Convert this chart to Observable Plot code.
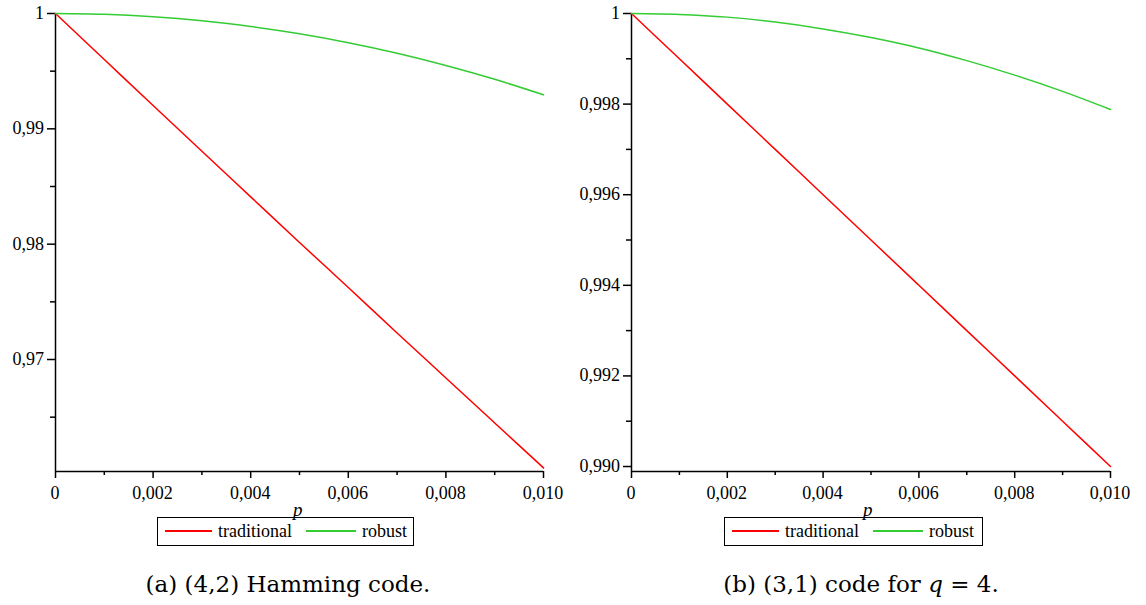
<!DOCTYPE html>
<html><head><meta charset="utf-8">
<script src="https://cdn.jsdelivr.net/npm/d3@7"></script>
<script src="https://cdn.jsdelivr.net/npm/@observablehq/plot@0.6"></script>
<style>
body{margin:0;background:#fff;}
#root{position:relative;width:1146px;height:605px;font-family:"Liberation Serif",serif;color:#000;overflow:hidden;}
.panel{position:absolute;top:0;}
.tick{position:absolute;font-family:"Liberation Serif",serif;font-size:18px;line-height:18px;white-space:nowrap;}
.plabel{position:absolute;font-style:italic;font-size:19px;line-height:19px;}
.legend{position:absolute;box-sizing:border-box;border:1.5px solid #000;height:29px;top:517px;font-size:18px;}
.legend .sw{position:absolute;top:12px;height:1.5px;}
.legend .tx{position:absolute;top:3px;line-height:20px;}
.caption{position:absolute;font-family:"DejaVu Serif",serif;font-size:23px;top:571px;white-space:nowrap;}
</style></head>
<body><div id="root"></div>
<script>
// x values (p)
const p = [0, 0.001, 0.002, 0.003, 0.004, 0.005, 0.006, 0.007, 0.008, 0.009, 0.010];
// (a) (4,2) Hamming code
const hammingTraditional = [1, 0.99601, 0.99202, 0.98805, 0.98410, 0.98015, 0.97624, 0.97230, 0.96840, 0.96450, 0.96060];
const hammingRobust      = [1, 0.99993, 0.99972, 0.99937, 0.99887, 0.99824, 0.99747, 0.99656, 0.99550, 0.99430, 0.99295];
// (b) (3,1) code for q = 4
const q4Traditional = [1, 0.99900, 0.99800, 0.99700, 0.99600, 0.99500, 0.99400, 0.99300, 0.99200, 0.99100, 0.99000];
const q4Robust      = [1, 0.99998, 0.99992, 0.99981, 0.99966, 0.99947, 0.99924, 0.99896, 0.99864, 0.99828, 0.99788];
// ticks
const xMajor = [0, 0.002, 0.004, 0.006, 0.008, 0.010];
const xMinor = [0.001, 0.003, 0.005, 0.007, 0.009];
const aYMajor = [1, 0.99, 0.98, 0.97];
const aYMinor = [0.995, 0.985, 0.975, 0.965];
const bYMajor = [1, 0.998, 0.996, 0.994, 0.992, 0.990];
const bYMinor = [0.999, 0.997, 0.995, 0.993, 0.991];
const seriesNames = ["traditional", "robust"];
const seriesColors = ["#ff0000", "#33cc33"];
const captions = ["(a) (4,2) Hamming code.", "(b) (3,1) code for "];

const root = document.getElementById("root");
const comma = s => s.replace(".", ",");
const xFmt = d => d === 0 ? "0" : comma(d.toFixed(3));

function addText(cls, txt, left, top, transform) {
  const el = document.createElement("div");
  el.className = cls;
  el.textContent = txt;
  el.style.left = left + "px";
  el.style.top = top + "px";
  if (transform) el.style.transform = transform;
  root.appendChild(el);
  return el;
}

function makePanel(opts) {
  const rows = [];
  p.forEach((x, i) => {
    rows.push({p: x, v: opts.trad[i], s: seriesNames[0]});
    rows.push({p: x, v: opts.rob[i], s: seriesNames[1]});
  });
  const chart = Plot.plot({
    width: 573, height: 505,
    marginTop: 13, marginBottom: 34, marginLeft: opts.marginLeft, marginRight: opts.marginRight,
    style: {background: "transparent"},
    x: {domain: [0, 0.010], axis: null},
    y: {domain: opts.yDomain, axis: null},
    marks: [
      Plot.axisY({ticks: opts.yMajor, tickSize: 8, tickFormat: () => "", label: null, strokeWidth: 1.5}),
      Plot.axisY({ticks: opts.yMinor, tickSize: 5, tickFormat: () => "", label: null, strokeWidth: 1.5}),
      Plot.axisX({ticks: xMajor, tickSize: 7, tickFormat: () => "", label: null, anchor: "bottom", strokeWidth: 1.5}),
      Plot.axisX({ticks: xMinor, tickSize: 4, tickFormat: () => "", label: null, anchor: "bottom", strokeWidth: 1.5}),
      Plot.ruleX([0], {stroke: "#000", strokeWidth: 1.5}),
      Plot.ruleY([opts.yDomain[0]], {stroke: "#000", strokeWidth: 1.5}),
      Plot.line(rows, {x: "p", y: "v", z: "s", stroke: d => d.s === seriesNames[0] ? seriesColors[0] : seriesColors[1], strokeWidth: 1.5, curve: "monotone-x"})
    ]
  });
  const wrap = document.createElement("div");
  wrap.className = "panel";
  wrap.style.left = opts.left + "px";
  wrap.appendChild(chart);
  root.appendChild(wrap);

  const xs = chart.scale("x"), ys = chart.scale("y");
  // tick labels placed through the chart's own scales
  opts.yMajor.forEach(v => {
    const el = addText("tick", opts.yFmt(v), 0, ys.apply(v) - 9);
    el.style.left = "auto";
    el.style.right = (1146 - (opts.left + opts.marginLeft - 11)) + "px";
  });
  xMajor.forEach(v => {
    addText("tick", xFmt(v), opts.left + xs.apply(v), 484, "translateX(-50%)");
  });

  addText("plabel", "p", opts.left + opts.pX, 500);

  const lg = document.createElement("div");
  lg.className = "legend";
  lg.style.left = opts.legendLeft + "px";
  lg.style.width = opts.legendWidth + "px";
  lg.innerHTML =
    `<div class="sw" style="left:7px;width:47px;background:${seriesColors[0]}"></div>` +
    `<div class="tx" style="left:60px">${seriesNames[0]}</div>` +
    `<div class="sw" style="left:148px;width:50px;background:${seriesColors[1]}"></div>` +
    `<div class="tx" style="left:204px">${seriesNames[1]}</div>`;
  root.appendChild(lg);

  const cap = document.createElement("div");
  cap.className = "caption";
  cap.innerHTML = opts.caption;
  cap.style.left = opts.capX + "px";
  cap.style.transform = "translateX(-50%)";
  root.appendChild(cap);
}

makePanel({
  left: 0, marginLeft: 55, marginRight: 30,
  yDomain: [0.96029, 1], yMajor: aYMajor, yMinor: aYMinor,
  yFmt: d => d === 1 ? "1" : comma(d.toFixed(2)),
  trad: hammingTraditional, rob: hammingRobust,
  pX: 293, legendLeft: 157, legendWidth: 257,
  caption: captions[0], capX: 288
});
makePanel({
  left: 573, marginLeft: 58, marginRight: 36,
  yDomain: [0.98989, 1], yMajor: bYMajor, yMinor: bYMinor,
  yFmt: d => d === 1 ? "1" : comma(d.toFixed(3)),
  trad: q4Traditional, rob: q4Robust,
  pX: 290, legendLeft: 724, legendWidth: 259,
  caption: captions[1] + '<i style="font-family:\'DejaVu Serif\'">q</i> = 4.', capX: 861
});
</script>
</body></html>
